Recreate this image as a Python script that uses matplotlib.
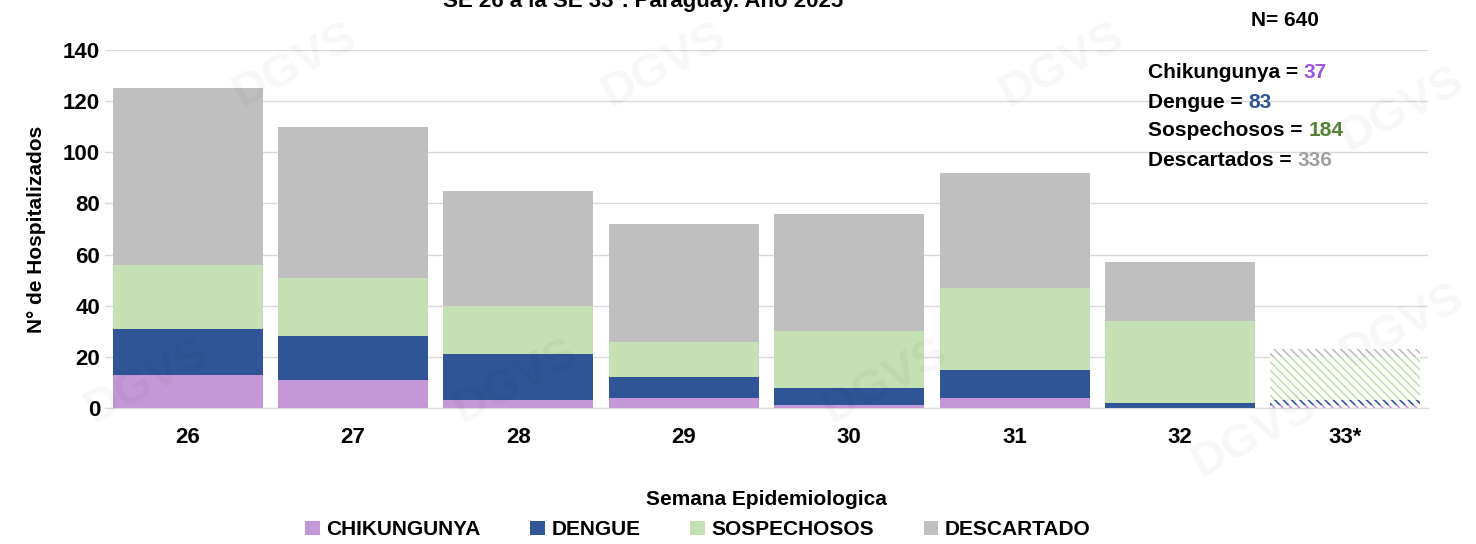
#stacked bar chart of hospitalised cases per epidemiological week

import matplotlib.pyplot as plt
import numpy as np
from matplotlib import font_manager

semanas = ["26", "27", "28", "29", "30", "31", "32", "33*"]
chikungunya = [13, 11, 3, 4, 1, 4, 0, 1]
dengue = [18, 17, 18, 8, 7, 11, 2, 2]
sospechosos = [25, 23, 19, 14, 22, 32, 32, 17]
descartados = [69, 59, 45, 46, 46, 45, 23, 3]

series = ["CHIKUNGUNYA", "DENGUE", "SOSPECHOSOS", "DESCARTADO"]
colores = ["#C497D6", "#2F5597", "#C5E0B4", "#BFBFBF"]

#pick a narrow font if there is one
names = {f.name for f in font_manager.fontManager.ttflist}
fuente = "Liberation Sans Narrow" if "Liberation Sans Narrow" in names else "Liberation Sans"
plt.rcParams["font.family"] = [fuente, "DejaVu Sans"]
plt.rcParams["font.weight"] = "bold"
plt.rcParams["hatch.linewidth"] = 1.2

fig = plt.figure(figsize=(14.76, 5.44), dpi=100)
ax = fig.add_axes([105 / 1476, 136 / 544, 1323 / 1476, 358 / 544])

x = np.arange(len(semanas))
datos = [chikungunya, dengue, sospechosos, descartados]
base = np.zeros(len(semanas))
for vals, nombre, color in zip(datos, series, colores):
    vals = np.array(vals, dtype=float)
    # last week is provisional -> hatched
    ax.bar(x[:-1], vals[:-1], 0.907, bottom=base[:-1], color=color, label=nombre, zorder=2)
    ax.bar(x[-1:], vals[-1:], 0.907, bottom=base[-1:], facecolor="white", edgecolor=color,
           hatch="\\\\\\\\", linewidth=0, zorder=2)
    base += vals

ax.set_xlim(-0.5, len(semanas) - 0.5)
ax.set_ylim(0, 140)
ax.set_yticks(range(0, 141, 20))
ax.set_xticks(x)
ax.set_xticklabels(semanas)
ax.yaxis.grid(True, color="#d9d9d9", linewidth=1, zorder=0)
for s in ["top", "right", "left"]:
    ax.spines[s].set_visible(False)
ax.spines["bottom"].set_color("#d9d9d9")
ax.tick_params(axis="both", length=0, labelsize=16)
ax.tick_params(axis="x", pad=14)
ax.set_xlabel("Semana Epidemiologica", fontsize=15, fontweight="bold", labelpad=30)
ax.set_ylabel("N° de Hospitalizados", fontsize=15, fontweight="bold", labelpad=12)

ax.legend(loc="center", bbox_to_anchor=(0.448, -0.34), ncol=4, frameon=False,
          fontsize=15, handlelength=0.7, handleheight=0.7, handletextpad=0.3,
          columnspacing=2.4, borderpad=0)

#watermark
for wx, wy in [(0.2, 0.88), (0.45, 0.88), (0.72, 0.88), (0.95, 0.8), (0.95, 0.4),
               (0.1, 0.3), (0.35, 0.3), (0.6, 0.3), (0.85, 0.2)]:
    fig.text(wx, wy, "DGVS", fontsize=34, color="#000000", alpha=0.035, rotation=28,
             ha="center", va="center", zorder=0)

#totals box
fig.text(1285 / 1476, 1 - 20 / 544, "N= 640", fontsize=15, ha="center", va="center")
totales = [("Chikungunya = ", "37", "#9B55E0"), ("Dengue = ", "83", "#2F5597"),
           ("Sospechosos = ", "184", "#548235"), ("Descartados = ", "336", "#A0A0A0")]
for i, (txt, num, col) in enumerate(totales):
    y = 1 - (73 + i * 29) / 544
    t = fig.text(1148 / 1476, y, txt, fontsize=15, ha="left", va="center")
    fig.canvas.draw()
    bb = t.get_window_extent()
    fig.text(bb.x1 / fig.bbox.width, y, num, fontsize=15, ha="left", va="center", color=col)

fig.text(643 / 1476, 1 - 7 / 544, "SE 26 a la SE 33*. Paraguay. Año 2025", fontsize=16,
         ha="center", va="baseline")

fig.savefig("out.png", dpi=100)
